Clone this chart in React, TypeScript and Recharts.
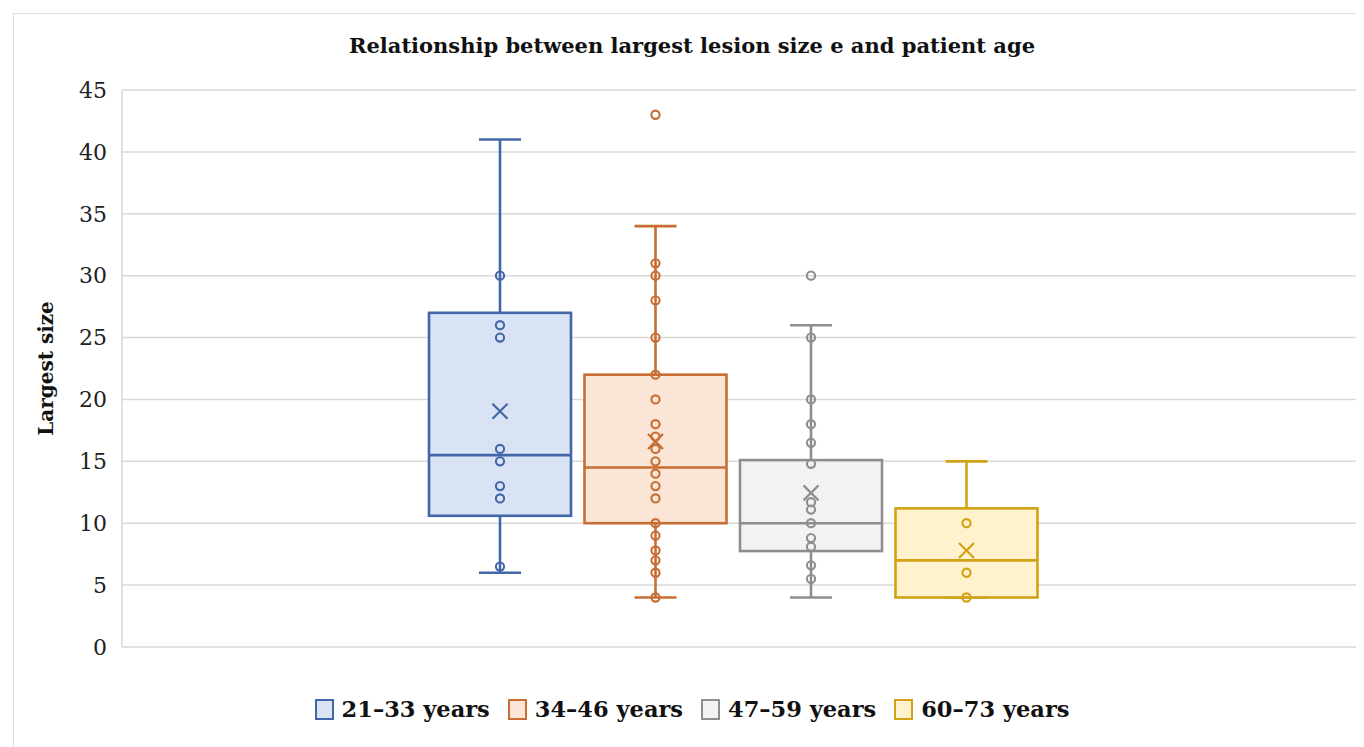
import React from "react";
import { ComposedChart, Bar, XAxis, YAxis, CartesianGrid } from "recharts";

const groups = ["21–33 years", "34–46 years", "47–59 years", "60–73 years"];
const whiskerLow = [6, 4, 4, 4];
const q1 = [10.6, 10, 7.75, 4];
const median = [15.5, 14.5, 10, 7];
const q3 = [27, 22, 15.1, 11.2];
const whiskerHigh = [41, 34, 26, 15];
const means = [19.05, 16.6, 12.45, 7.8];
const points = [
  [30, 26, 25, 16, 15, 13, 12, 6.5],
  [43, 31, 30, 28, 25, 22, 20, 18, 17, 16, 15, 14, 13, 12, 10, 9, 7.8, 7, 6, 4],
  [30, 25, 20, 18, 16.5, 14.8, 11.7, 11.1, 10, 8.8, 8.1, 6.6, 5.5],
  [10, 6, 4],
];
const yTicks = [0, 5, 10, 15, 20, 25, 30, 35, 40, 45];

const strokes = ["#4166AA", "#C76E34", "#8E8E8E", "#D2A215"];
const fills = ["#DAE3F3", "#FBE5D6", "#F2F2F2", "#FFF2CC"];

const FONT = "'DejaVu Serif', serif";

const data = [
  groups.reduce<Record<string, any>>(
    (row, _g, i) => {
      row[`s${i}`] = [whiskerLow[i], whiskerHigh[i]];
      return row;
    },
    { name: "" }
  ),
];

const makeBox = (i: number) => (props: any) => {
  const { x, width } = props;
  const top = Math.min(props.y, props.y + props.height);
  const h = Math.abs(props.height);
  const lo = whiskerLow[i];
  const hi = whiskerHigh[i];
  const k = h / (hi - lo);
  const toY = (v: number) => top + (hi - v) * k;
  const cx = x + width / 2;
  const c = strokes[i];
  const capW = 21;
  const yMean = toY(means[i]);
  return (
    <g>
      <line x1={cx} x2={cx} y1={toY(hi)} y2={toY(q3[i])} stroke={c} strokeWidth={2.6} />
      <line x1={cx} x2={cx} y1={toY(q1[i])} y2={toY(lo)} stroke={c} strokeWidth={2.6} />
      <line x1={cx - capW} x2={cx + capW} y1={toY(hi)} y2={toY(hi)} stroke={c} strokeWidth={2.6} />
      <line x1={cx - capW} x2={cx + capW} y1={toY(lo)} y2={toY(lo)} stroke={c} strokeWidth={2.6} />
      <rect
        x={x}
        y={toY(q3[i])}
        width={width}
        height={toY(q1[i]) - toY(q3[i])}
        fill={fills[i]}
        stroke={c}
        strokeWidth={2.6}
      />
      <line x1={x} x2={x + width} y1={toY(median[i])} y2={toY(median[i])} stroke={c} strokeWidth={2.6} />
      {points[i].map((v, j) => (
        <circle key={j} cx={cx} cy={toY(v)} r={4.1} fill="none" stroke={c} strokeWidth={2.1} />
      ))}
      <path
        d={`M${cx - 7.5},${yMean - 7.5}L${cx + 7.5},${yMean + 7.5}M${cx + 7.5},${yMean - 7.5}L${cx - 7.5},${yMean + 7.5}`}
        stroke={c}
        strokeWidth={2.2}
        fill="none"
      />
    </g>
  );
};

const YLabel = (props: any) => {
  const { viewBox } = props;
  const cy = viewBox.y + viewBox.height / 2;
  return (
    <text
      x={38}
      y={cy}
      transform={`rotate(-90, 38, ${cy})`}
      textAnchor="middle"
      dominantBaseline="central"
      fontFamily={FONT}
      fontWeight="bold"
      fontSize={20}
      fill="#111"
    >
      Largest size
    </text>
  );
};

export default function App() {
  return (
    <div style={{ position: "relative", width: 1356, height: 739, background: "#fff", overflow: "hidden" }}>
      <div
        style={{
          position: "absolute",
          left: 5,
          top: 5,
          width: 1400,
          height: 800,
          borderLeft: "1.5px solid #dedede",
          borderTop: "1.5px solid #dedede",
        }}
      />
      <div
        style={{
          position: "absolute",
          left: 0,
          width: 1368,
          top: 25,
          textAlign: "center",
          fontFamily: FONT,
          fontWeight: "bold",
          fontSize: 21,
          color: "#111",
        }}
      >
        Relationship between largest lesion size e and patient age
      </div>
      <div style={{ position: "absolute", left: 0, top: 0 }}>
        <ComposedChart
          width={1356}
          height={739}
          data={data}
          margin={{ top: 82, right: 8, bottom: 100, left: 0 }}
          barSize={142}
          barGap={13.5}
        >
          <CartesianGrid vertical={false} stroke="#d9d9d9" strokeWidth={1.5} />
          <XAxis
            dataKey="name"
            tick={false}
            tickLine={false}
            height={0}
            padding={{ left: 0, right: 12 }}
            axisLine={{ stroke: "#d9d9d9", strokeWidth: 1.5 }}
          />
          <YAxis
            domain={[0, 45]}
            ticks={yTicks}
            width={114}
            tickLine={false}
            tickSize={0}
            tickMargin={15}
            axisLine={{ stroke: "#d9d9d9", strokeWidth: 1.5 }}
            tick={{ fontFamily: FONT, fontSize: 22, fill: "#222" }}
            label={<YLabel />}
          />
          {groups.map((g, i) => (
            <Bar key={g} dataKey={`s${i}`} name={g} shape={makeBox(i)} isAnimationActive={false} />
          ))}
        </ComposedChart>
      </div>
      <div
        style={{
          position: "absolute",
          left: 0,
          width: 1368,
          top: 688,
          display: "flex",
          justifyContent: "center",
          gap: 18,
          fontFamily: FONT,
          fontWeight: "bold",
          fontSize: 22.5,
          color: "#111",
        }}
      >
        {groups.map((g, i) => (
          <div key={g} style={{ display: "flex", alignItems: "center", gap: 8 }}>
            <span
              style={{
                display: "inline-block",
                width: 15,
                height: 17,
                background: fills[i],
                border: `2px solid ${strokes[i]}`,
              }}
            />
            <span>{g}</span>
          </div>
        ))}
      </div>
    </div>
  );
}
